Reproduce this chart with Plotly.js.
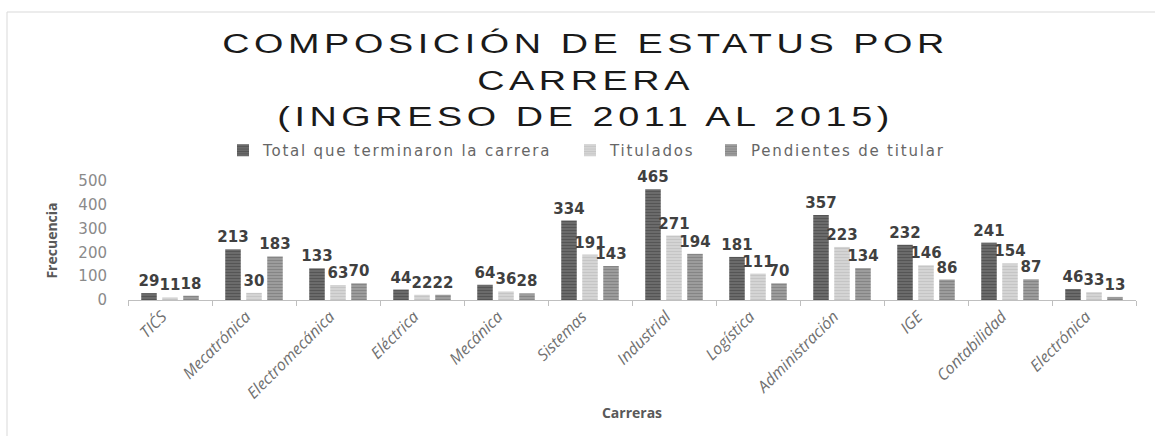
<!DOCTYPE html>
<html>
<head>
<meta charset="utf-8">
<script src="https://cdn.plot.ly/plotly-3.0.1.min.js"></script>
<style>
  html, body { margin: 0; padding: 0; background: #fff; }
  #chart { width: 1155px; height: 436px; }
  .gtitle { letter-spacing: 3.4px; transform-box: fill-box; transform-origin: center; transform: scaleX(1.35); }
</style>
</head>
<body>
<div id="chart"></div>
<script>
const carreras = ["TIC´S", "Mecatrónica", "Electromecánica", "Eléctrica", "Mecánica", "Sistemas",
                  "Industrial", "Logística", "Administración", "IGE", "Contabilidad", "Electrónica"];
const totalTerminaron = [29, 213, 133, 44, 64, 334, 465, 181, 357, 232, 241, 46];
const titulados       = [11, 30, 63, 22, 36, 191, 271, 111, 223, 146, 154, 33];
const pendientes      = [18, 183, 70, 22, 28, 143, 194, 70, 134, 86, 87, 13];
const seriesNames = ["Total que terminaron la carrera", "Titulados", "Pendientes de titular"];
const yTicks = [0, 100, 200, 300, 400, 500];

const labelFont = { family: "DejaVu Sans", size: 15, color: "#404040", weight: "bold" };

function barTrace(name, values, bg, fg, legendId) {
  return {
    type: "bar",
    name: name,
    legend: legendId,
    x: carreras,
    y: values,
    text: values.map(String),
    textposition: "outside",
    constraintext: "none",
    cliponaxis: false,
    textfont: labelFont,
    marker: {
      color: bg,
      line: { width: 0 },
      pattern: { shape: "-", fgcolor: fg, bgcolor: bg, size: 3, solidity: 0.45, fillmode: "overlay" }
    },
    hoverinfo: "x+y+name"
  };
}

const data = [
  barTrace(seriesNames[0], totalTerminaron, "#6e6e6e", "#3c3c3c", "legend"),
  barTrace(seriesNames[1], titulados, "#d6d6d6", "#b4b4b4", "legend2"),
  barTrace(seriesNames[2], pendientes, "#a0a0a0", "#6a6a6a", "legend3")
];

const axisTitleFont = { family: "Open Sans", size: 14, color: "#595959", weight: "bold" };
const legendFont = { family: "DejaVu Sans", size: 15, color: "#666666" };

function legendAt(px) {
  return {
    orientation: "h",
    xref: "container",
    yref: "container",
    x: px / 1155,
    xanchor: "left",
    y: 1 - 134 / 436,
    yanchor: "top",
    font: legendFont,
    itemwidth: 30,
    entrywidth: 340,
    entrywidthmode: "pixels",
    bgcolor: "rgba(0,0,0,0)"
  };
}

const layout = {
  width: 1155,
  height: 436,
  margin: { l: 128, r: 19, t: 181, b: 136 },
  paper_bgcolor: "#ffffff",
  plot_bgcolor: "#ffffff",
  barmode: "group",
  bargap: 0.25,
  bargroupgap: 0.26,
  showlegend: true,
  title: {
    text: "COMPOSICIÓN DE ESTATUS POR<br>CARRERA<br>(INGRESO DE 2011 AL 2015)",
    font: { family: "Liberation Sans", size: 28, color: "#1a1a1a" },
    xref: "container",
    x: 0.507,
    xanchor: "center",
    yref: "container",
    y: 0.878,
    yanchor: "top"
  },
  legend: legendAt(263 - 40),
  legend2: legendAt(610 - 40),
  legend3: legendAt(751 - 40),
  xaxis: {
    type: "category",
    tickangle: -45,
    tickfont: { family: "Open Sans", size: 16, color: "#707070", style: "italic" },
    ticklabelshift: -8,
    showline: true,
    linecolor: "#bfbfbf",
    linewidth: 1,
    ticks: "outside",
    tickson: "boundaries",
    ticklen: 5,
    tickcolor: "#bfbfbf",
    showgrid: false,
    zeroline: false,
    fixedrange: true,
    automargin: false,
    title: {
      text: "Carreras",
      font: axisTitleFont,
      standoff: 5
    }
  },
  yaxis: {
    range: [0, 500],
    tickvals: yTicks,
    ticktext: yTicks.map(String),
    tickfont: { family: "DejaVu Sans", size: 15, color: "#8a8a8a" },
    showline: false,
    showgrid: false,
    zeroline: false,
    ticks: "",
    ticklabelstandoff: 20,
    fixedrange: true,
    automargin: false,
    title: {
      text: "Frecuencia",
      font: axisTitleFont,
      standoff: 17
    }
  },
  shapes: [
    {
      type: "rect",
      xref: "paper", yref: "paper",
      x0: (7 - 128) / 1008, x1: (1165 - 128) / 1008,
      y0: (300 - 445) / 119, y1: (300 - 12) / 119,
      line: { color: "#d9d9d9", width: 1 },
      fillcolor: "rgba(0,0,0,0)",
      layer: "below"
    }
  ]
};

Plotly.newPlot("chart", data, layout, { displayModeBar: false, staticPlot: true }).then(function (gd) {
  gd.querySelectorAll("g[class^='legend'] text").forEach(function (t) {
    t.style.letterSpacing = "1.8px";
  });
});
</script>
</body>
</html>
